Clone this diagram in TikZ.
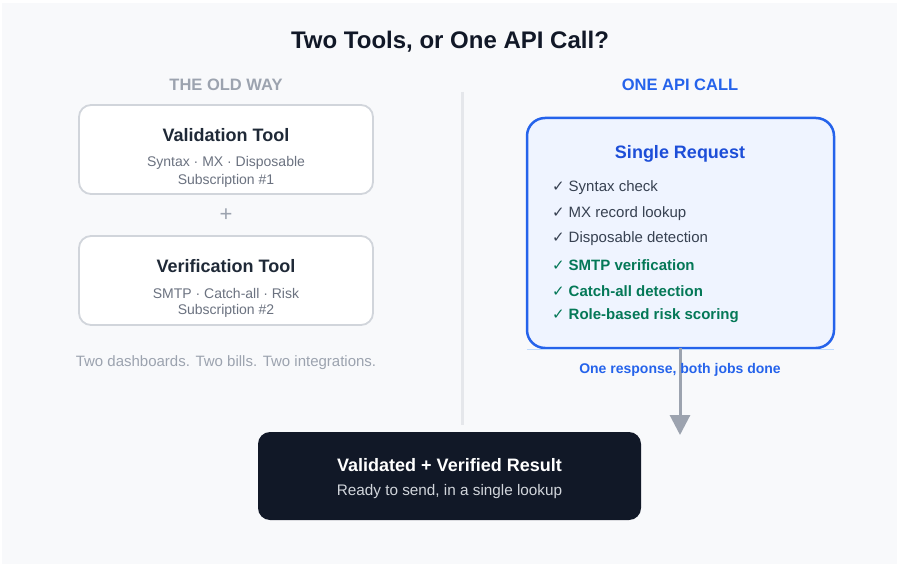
\documentclass[tikz,border=0pt]{standalone}
\usepackage{fontspec}
\setmainfont{Liberation Sans}
\newfontfamily\symfont{DejaVu Sans}
\usetikzlibrary{arrows.meta}
\definecolor{bgc}{HTML}{F8F9FB}
\definecolor{divc}{HTML}{E5E7EB}
\definecolor{cardline}{HTML}{D1D5DB}
\definecolor{titlec}{HTML}{111827}
\definecolor{cardtitle}{HTML}{1F2937}
\definecolor{subc}{HTML}{6B7280}
\definecolor{mutedc}{HTML}{9CA3AF}
\definecolor{bluec}{HTML}{2563EB}
\definecolor{bluefill}{HTML}{EFF4FF}
\definecolor{bluedark}{HTML}{1D4ED8}
\definecolor{greenc}{HTML}{047857}
\definecolor{darkc}{HTML}{111827}
\definecolor{itemc}{HTML}{374151}
\definecolor{lightline}{HTML}{BFDBFE}
\newcommand{\ck}{{\symfont ✓}}
\newcommand{\ckb}{{\symfont\bfseries ✓}}
\begin{document}
\begin{tikzpicture}[x=1pt,y=-1pt,
  card/.style={draw=cardline, line width=1.8pt, fill=white, rounded corners=12pt},
  cardhead/.style={font=\fontsize{18}{21}\selectfont\bfseries, text=cardtitle},
  cardsub/.style={font=\fontsize{14}{16}\selectfont, text=subc},
  item/.style={anchor=west, font=\fontsize{15}{17}\selectfont, text=itemc},
  gitem/.style={anchor=west, font=\fontsize{15}{17}\selectfont\bfseries, text=greenc},
  inner sep=0pt, outer sep=0pt]
\useasboundingbox (0,0) rectangle (900,567);
\fill[white] (0,0) rectangle (900,567);
\fill[bgc] (2,3) rectangle (897,564);
% title
\node[font=\fontsize{24}{28}\selectfont\bfseries, text=titlec] (title) at (450,42) {Two Tools, or One API Call?};
% divider
\draw[divc, line width=3pt] (462,92) -- (462,425);
% headings
\node[font=\fontsize{16.5}{19}\selectfont\bfseries, text=mutedc] (oldh) at (226,85) {THE OLD WAY};
\node[font=\fontsize{16.5}{19}\selectfont\bfseries, text=bluec] (newh) at (680,85) {ONE API CALL};
% old way cards
\draw[card] (79,105) rectangle (373,194);
\node[cardhead] (vt) at (226,135) {Validation Tool};
\node[cardsub] (vs1) at (226,163) {Syntax · MX · Disposable};
\node[cardsub] (vs2) at (226,181) {Subscription \#1};
\node[font=\fontsize{22}{24}\selectfont, text=mutedc] (plus) at (226,215) {+};
\draw[card] (79,236) rectangle (373,325);
\node[cardhead] (ft) at (226,266) {Verification Tool};
\node[cardsub] (fs1) at (226,293) {SMTP · Catch-all · Risk};
\node[cardsub] (fs2) at (226,311) {Subscription \#2};
\node[font=\fontsize{15}{17}\selectfont, text=mutedc] (note) at (226,363) {Two dashboards. Two bills. Two integrations.};
% single request
\draw[draw=bluec, line width=2.5pt, fill=bluefill, rounded corners=18pt] (527,118) rectangle (834,348);
\coordinate (reqS) at (680,348);
\draw[lightline, line width=1pt] (527,349) -- (834,349);
\node[font=\fontsize{18}{21}\selectfont\bfseries, text=bluedark] (rt) at (680,154) {Single Request};
\node[item] (i1) at (552,188) {\ck\ Syntax check};
\node[item] (i2) at (552,214) {\ck\ MX record lookup};
\node[item] (i3) at (552,239) {\ck\ Disposable detection};
\node[gitem] (i4) at (552,265) {\ckb\ SMTP verification};
\node[gitem] (i5) at (552,291) {\ckb\ Catch-all detection};
\node[gitem] (i6) at (552,316) {\ckb\ Role-based risk scoring};
% result
\node[fill=darkc, rounded corners=12pt, minimum width=383pt, minimum height=88pt] (res) at (449.5,476) {};
\node[font=\fontsize{18}{21}\selectfont\bfseries, text=white] (rest) at (449.5,465) {Validated + Verified Result};
\node[font=\fontsize{15.3}{18}\selectfont, text=cardline] (ress) at (449.5,492) {Ready to send, in a single lookup};
% arrow
\coordinate (arrEnd) at (680,435);
\draw[mutedc, line width=3pt, -{Triangle[length=20pt,width=20pt]}] (reqS) -- (arrEnd);
\node[font=\fontsize{14}{16}\selectfont\bfseries, text=bluec] (lab) at (680,370) {One response, both jobs done};
\end{tikzpicture}
\end{document}
